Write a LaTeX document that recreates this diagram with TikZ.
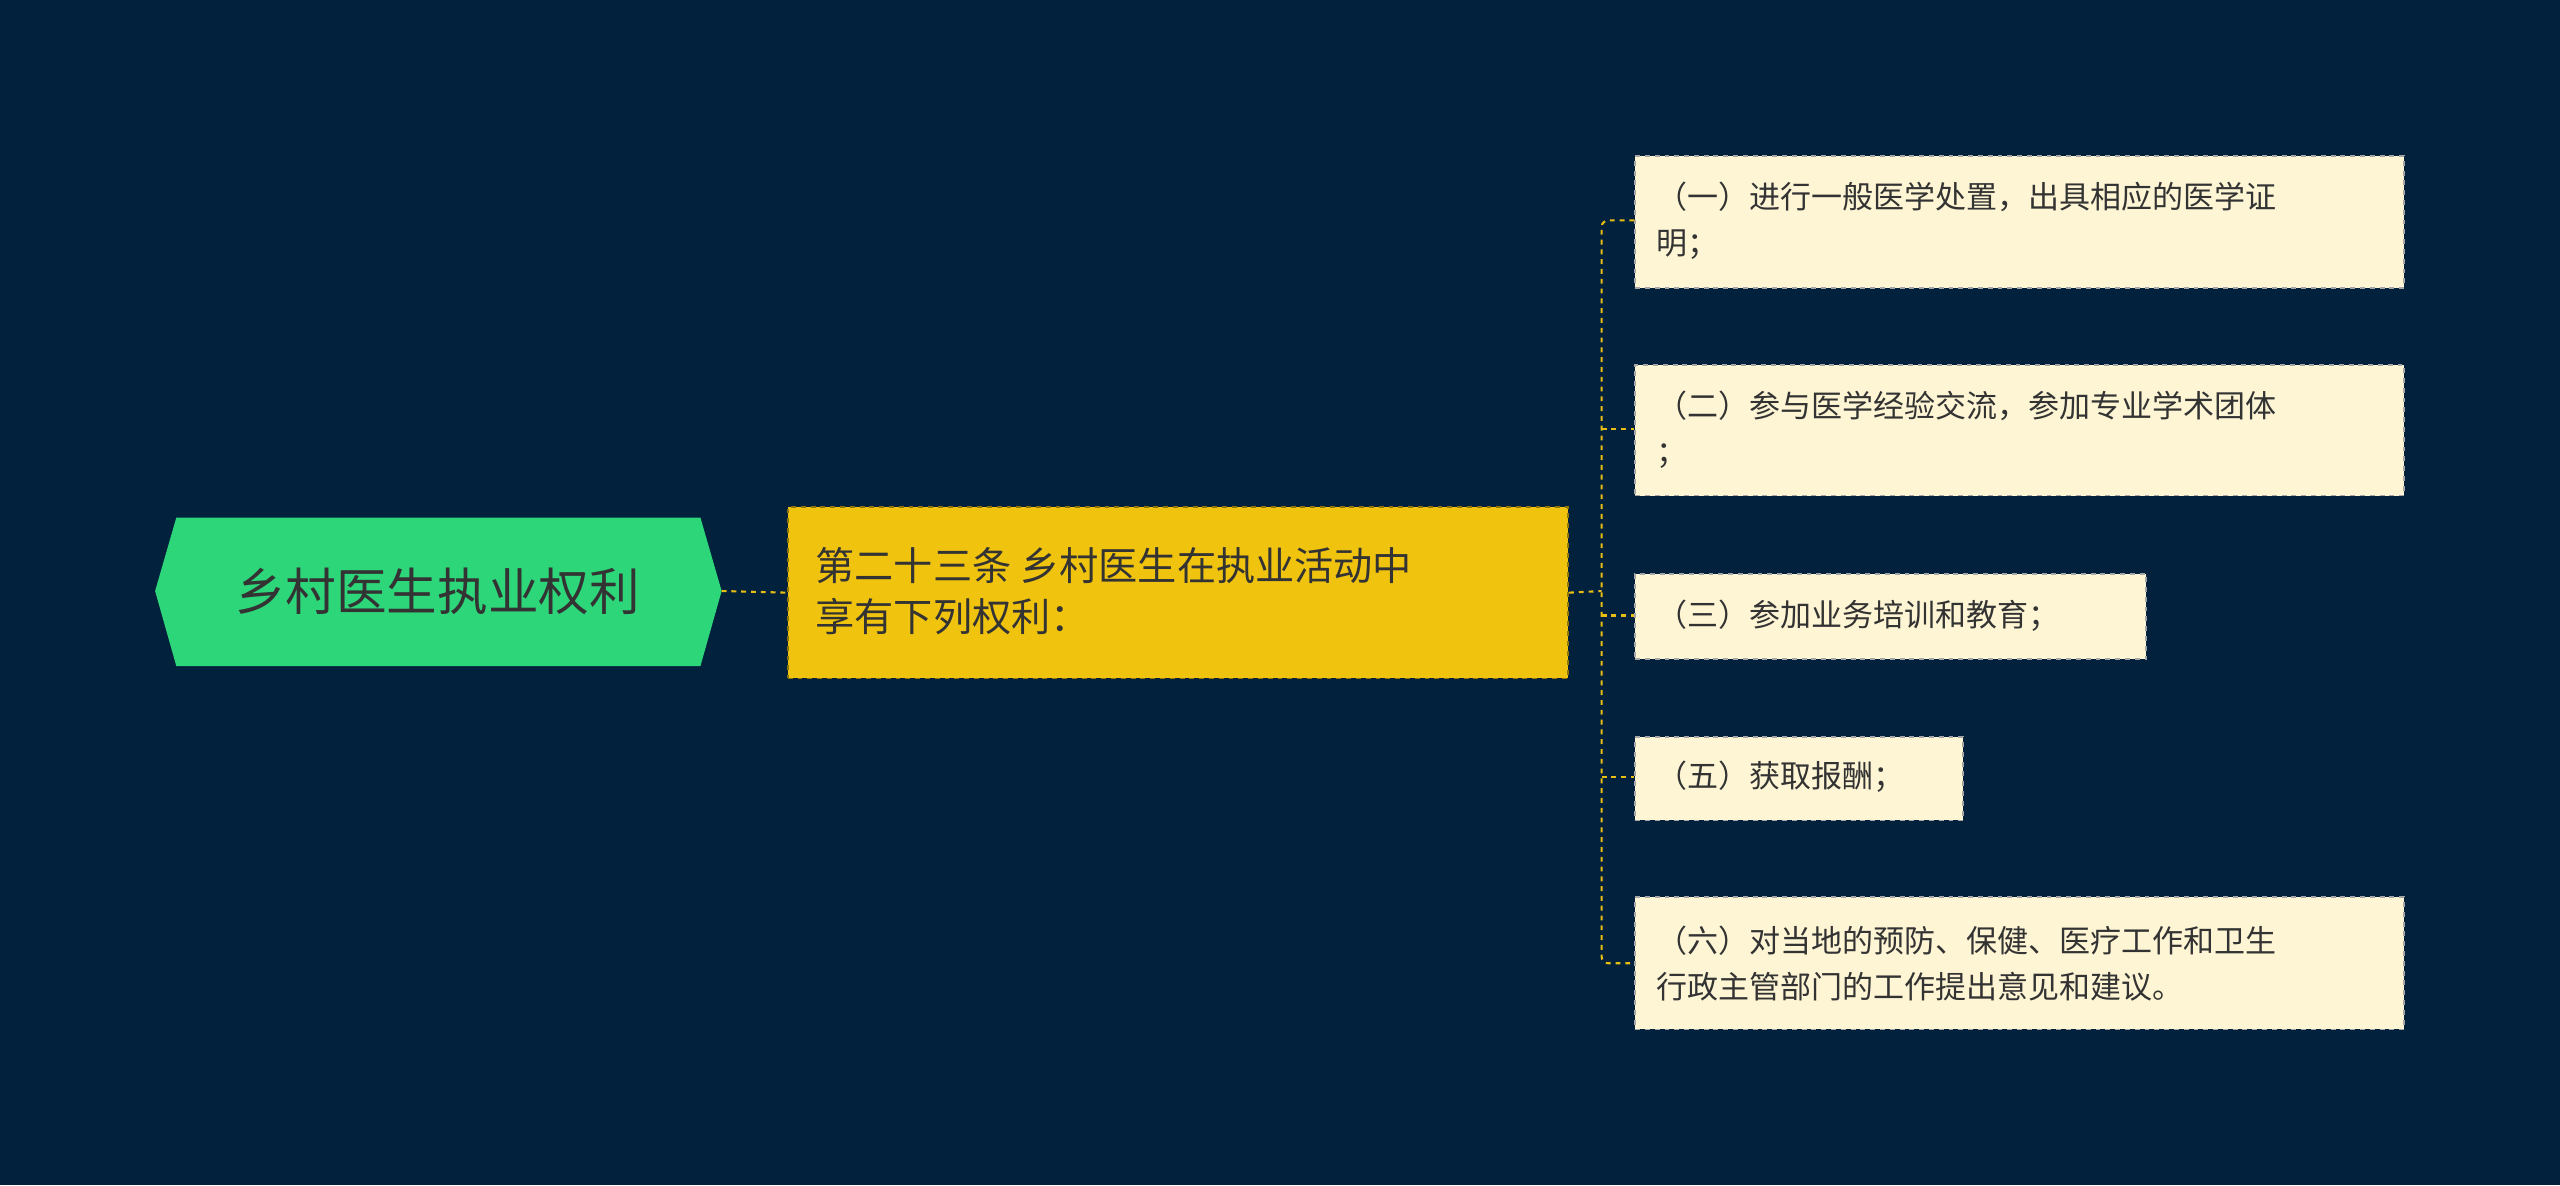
\documentclass[tikz,border=0pt]{standalone}
\usepackage{fontspec}
\setmainfont{Noto Sans CJK SC}
\begin{document}
\begin{tikzpicture}[x=1pt,y=-1pt,
  leaf/.style={draw=black!35,dashed,fill=cream,line width=1pt,anchor=north west,inner sep=0pt},
  conn/.style={draw=lineY,dashed,line width=1.3pt}]
\definecolor{bg}{HTML}{01213D}
\definecolor{cream}{HTML}{FDF5D4}
\definecolor{lineY}{HTML}{E9BE12}
\definecolor{mainY}{HTML}{F0C30F}
\definecolor{rootG}{HTML}{2ED67A}
\definecolor{txt}{HTML}{333333}
\fill[bg] (0,0) rectangle (1568,726);
\useasboundingbox (0,0) rectangle (1568,726);
% root
\fill[rootG] (95,362)--(108,317)--(429,317)--(442,362)--(429,408)--(108,408)--cycle;
\node[text=txt,font=\fontsize{31}{36}\selectfont] (root) at (268,362) {乡村医生执业权利};
\coordinate (rootE) at (442,362);
% main
\node[draw=black!40!mainY,dashed,fill=mainY,line width=1pt,minimum width=478pt,minimum height=105pt,anchor=north west] (main) at (482,310) {};
\node[anchor=west,text=txt,align=left,font=\fontsize{24}{31}\selectfont] at (496,362) {第二十三条 乡村医生在执业活动中\\享有下列权利：};
\draw[conn] (rootE) -- (main.west);
% leaves
\node[leaf,minimum width=471pt,minimum height=81pt] (l1) at (1001,95) {};
\node[leaf,minimum width=471pt,minimum height=80pt] (l2) at (1001,223) {};
\node[leaf,minimum width=313pt,minimum height=52pt] (l3) at (1001,351) {};
\node[leaf,minimum width=201pt,minimum height=51pt] (l4) at (1001,451) {};
\node[leaf,minimum width=471pt,minimum height=81pt] (l5) at (1001,549) {};
\tikzset{lt/.style={anchor=west,text=txt,align=left,font=\fontsize{19}{28}\selectfont}}
\node[lt] at (1011,135) {（一）进行一般医学处置，出具相应的医学证\\明；};
\node[lt] at (1011,263) {（二）参与医学经验交流，参加专业学术团体\\；};
\node[lt] at (1011,377) {（三）参加业务培训和教育；};
\node[lt] at (1011,476) {（五）获取报酬；};
\node[lt] at (1011,590) {（六）对当地的预防、保健、医疗工作和卫生\\行政主管部门的工作提出意见和建议。};
% connectors
\coordinate (sp) at (981,362);
\draw[conn] (main.east) -- (sp);
\draw[conn,rounded corners=4pt] (l1.west|-0,135) -- (981,135) -- (981,590) -- (l5.west|-0,590);
\draw[conn] (981,263) -- (l2.west|-0,263);
\draw[conn] (981,377) -- (l3.west|-0,377);
\draw[conn] (981,476) -- (l4.west|-0,476);
\end{tikzpicture}
\end{document}
